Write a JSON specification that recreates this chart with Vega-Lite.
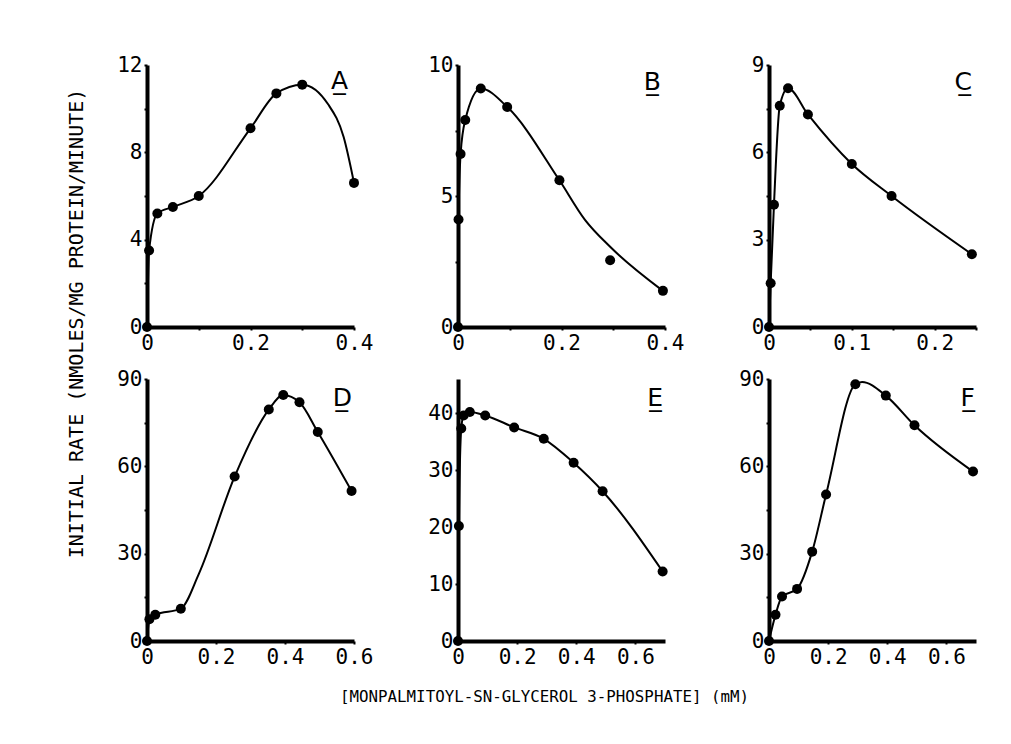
{
  "$schema": "https://vega.github.io/schema/vega-lite/v6.json",
  "padding": {"left": 65, "top": 54, "right": 0, "bottom": 0},
  "background": "white",
  "config": {
    "view": {"stroke": null},
    "axis": {
      "grid": false,
      "domainColor": "black",
      "domainWidth": 4,
      "tickColor": "black",
      "tickWidth": 2,
      "tickSize": 3,
      "labelColor": "black",
      "labelFont": "DejaVu Sans Mono",
      "labelFontSize": 21,
      "labelPadding": 2,
      "labelFlush": false,
      "labelOverlap": false,
      "titleColor": "black"
    }
  },
  "datasets": {
    "pts": [
      {"panel": "A", "x": 0, "y": 0}, {"panel": "A", "x": 0.004, "y": 3.5}, {"panel": "A", "x": 0.02, "y": 5.2}, {"panel": "A", "x": 0.05, "y": 5.5}, {"panel": "A", "x": 0.1, "y": 6.0}, {"panel": "A", "x": 0.2, "y": 9.1}, {"panel": "A", "x": 0.25, "y": 10.7}, {"panel": "A", "x": 0.3, "y": 11.1}, {"panel": "A", "x": 0.4, "y": 6.6},
      {"panel": "B", "x": 0, "y": 0}, {"panel": "B", "x": 0.001, "y": 4.1}, {"panel": "B", "x": 0.005, "y": 6.6}, {"panel": "B", "x": 0.014, "y": 7.9}, {"panel": "B", "x": 0.044, "y": 9.1}, {"panel": "B", "x": 0.095, "y": 8.4}, {"panel": "B", "x": 0.196, "y": 5.6}, {"panel": "B", "x": 0.294, "y": 2.55}, {"panel": "B", "x": 0.396, "y": 1.38},
      {"panel": "C", "x": 0, "y": 0}, {"panel": "C", "x": 0.002, "y": 1.5}, {"panel": "C", "x": 0.006, "y": 4.2}, {"panel": "C", "x": 0.013, "y": 7.6}, {"panel": "C", "x": 0.023, "y": 8.2}, {"panel": "C", "x": 0.047, "y": 7.3}, {"panel": "C", "x": 0.1, "y": 5.6}, {"panel": "C", "x": 0.148, "y": 4.5}, {"panel": "C", "x": 0.245, "y": 2.5},
      {"panel": "D", "x": 0, "y": 0}, {"panel": "D", "x": 0.007, "y": 7.5}, {"panel": "D", "x": 0.024, "y": 9.0}, {"panel": "D", "x": 0.098, "y": 11.1}, {"panel": "D", "x": 0.254, "y": 56.5}, {"panel": "D", "x": 0.353, "y": 79.5}, {"panel": "D", "x": 0.395, "y": 84.5}, {"panel": "D", "x": 0.442, "y": 82}, {"panel": "D", "x": 0.495, "y": 71.8}, {"panel": "D", "x": 0.593, "y": 51.5},
      {"panel": "E", "x": 0, "y": 0}, {"panel": "E", "x": 0.003, "y": 20.2}, {"panel": "E", "x": 0.011, "y": 37.3}, {"panel": "E", "x": 0.019, "y": 39.6}, {"panel": "E", "x": 0.04, "y": 40.2}, {"panel": "E", "x": 0.092, "y": 39.6}, {"panel": "E", "x": 0.19, "y": 37.5}, {"panel": "E", "x": 0.29, "y": 35.5}, {"panel": "E", "x": 0.391, "y": 31.3}, {"panel": "E", "x": 0.489, "y": 26.3}, {"panel": "E", "x": 0.692, "y": 12.2},
      {"panel": "F", "x": 0, "y": 0}, {"panel": "F", "x": 0.022, "y": 9.0}, {"panel": "F", "x": 0.044, "y": 15.3}, {"panel": "F", "x": 0.095, "y": 17.9}, {"panel": "F", "x": 0.146, "y": 30.7}, {"panel": "F", "x": 0.193, "y": 50.3}, {"panel": "F", "x": 0.292, "y": 88.2}, {"panel": "F", "x": 0.395, "y": 84.3}, {"panel": "F", "x": 0.492, "y": 74.1}, {"panel": "F", "x": 0.69, "y": 58.2}
    ],
    "curve": [
      {"panel": "A", "x": 0, "y": 0}, {"panel": "A", "x": 0.004, "y": 3.5}, {"panel": "A", "x": 0.02, "y": 5.2}, {"panel": "A", "x": 0.05, "y": 5.5}, {"panel": "A", "x": 0.1, "y": 6.0}, {"panel": "A", "x": 0.2, "y": 9.1}, {"panel": "A", "x": 0.25, "y": 10.7}, {"panel": "A", "x": 0.3, "y": 11.1}, {"panel": "A", "x": 0.35, "y": 10.2}, {"panel": "A", "x": 0.38, "y": 8.7}, {"panel": "A", "x": 0.4, "y": 6.6},
      {"panel": "B", "x": 0, "y": 0}, {"panel": "B", "x": 0.001, "y": 4.1}, {"panel": "B", "x": 0.005, "y": 6.6}, {"panel": "B", "x": 0.014, "y": 7.9}, {"panel": "B", "x": 0.044, "y": 9.1}, {"panel": "B", "x": 0.095, "y": 8.4}, {"panel": "B", "x": 0.196, "y": 5.6}, {"panel": "B", "x": 0.245, "y": 4.1}, {"panel": "B", "x": 0.294, "y": 3.06}, {"panel": "B", "x": 0.396, "y": 1.38},
      {"panel": "C", "x": 0, "y": 0}, {"panel": "C", "x": 0.002, "y": 1.5}, {"panel": "C", "x": 0.006, "y": 4.2}, {"panel": "C", "x": 0.013, "y": 7.6}, {"panel": "C", "x": 0.023, "y": 8.2}, {"panel": "C", "x": 0.047, "y": 7.3}, {"panel": "C", "x": 0.1, "y": 5.6}, {"panel": "C", "x": 0.148, "y": 4.5}, {"panel": "C", "x": 0.245, "y": 2.5},
      {"panel": "D", "x": 0, "y": 0}, {"panel": "D", "x": 0.007, "y": 7.5}, {"panel": "D", "x": 0.024, "y": 9.0}, {"panel": "D", "x": 0.098, "y": 11.1}, {"panel": "D", "x": 0.15, "y": 23}, {"panel": "D", "x": 0.254, "y": 56.5}, {"panel": "D", "x": 0.353, "y": 79.5}, {"panel": "D", "x": 0.395, "y": 84.5}, {"panel": "D", "x": 0.442, "y": 82}, {"panel": "D", "x": 0.495, "y": 71.8}, {"panel": "D", "x": 0.593, "y": 51.5},
      {"panel": "E", "x": 0, "y": 0}, {"panel": "E", "x": 0.003, "y": 20.2}, {"panel": "E", "x": 0.011, "y": 37.3}, {"panel": "E", "x": 0.019, "y": 39.6}, {"panel": "E", "x": 0.04, "y": 40.2}, {"panel": "E", "x": 0.092, "y": 39.6}, {"panel": "E", "x": 0.19, "y": 37.5}, {"panel": "E", "x": 0.29, "y": 35.5}, {"panel": "E", "x": 0.391, "y": 31.3}, {"panel": "E", "x": 0.489, "y": 26.3}, {"panel": "E", "x": 0.692, "y": 12.2},
      {"panel": "F", "x": 0, "y": 0}, {"panel": "F", "x": 0.022, "y": 9.0}, {"panel": "F", "x": 0.044, "y": 15.3}, {"panel": "F", "x": 0.095, "y": 17.9}, {"panel": "F", "x": 0.146, "y": 30.7}, {"panel": "F", "x": 0.193, "y": 50.3}, {"panel": "F", "x": 0.292, "y": 88.2}, {"panel": "F", "x": 0.315, "y": 89.0}, {"panel": "F", "x": 0.395, "y": 84.3}, {"panel": "F", "x": 0.492, "y": 74.1}, {"panel": "F", "x": 0.69, "y": 58.2}
    ],
    "letters": [
      {"panel": "A", "letter": "A\u0332"}, {"panel": "B", "letter": "B\u0332"}, {"panel": "C", "letter": "C\u0332"},
      {"panel": "D", "letter": "D\u0332"}, {"panel": "E", "letter": "E\u0332"}, {"panel": "F", "letter": "F\u0332"}
    ]
  },
  "columns": 3,
  "spacing": {"row": 52, "column": 104},
  "bounds": "flush",
  "concat": [
    {
      "width": 207, "height": 262,
      "layer": [
        {"data": {"name": "curve"}, "transform": [{"filter": "datum.panel === 'A'"}], "mark": {"type": "line", "interpolate": "monotone", "color": "black", "strokeWidth": 2},
         "encoding": {
           "x": {"field": "x", "type": "quantitative", "scale": {"domain": [0, 0.4], "nice": false}, "axis": {"title": null, "values": [0, 0.1, 0.2, 0.3, 0.4], "format": ".1~f", "labelExpr": "indexof(['0','0.2','0.4'], datum.label) >= 0 ? datum.label : ''"}},
           "y": {"field": "y", "type": "quantitative", "scale": {"domain": [0, 12], "nice": false}, "axis": {"title": "INITIAL RATE  (NMOLES/MG PROTEIN/MINUTE)", "titleFont": "DejaVu Sans Mono", "titleFontSize": 20, "titleFontWeight": "normal", "titleAngle": 270, "titleX": -71, "titleY": 258, "titleAlign": "center", "titleBaseline": "middle", "values": [0, 2, 4, 6, 8, 10, 12], "labelExpr": "datum.value % 4 == 0 ? datum.label : ''"}}
         }},
        {"data": {"name": "pts"}, "transform": [{"filter": "datum.panel === 'A'"}], "mark": {"type": "circle", "color": "black", "opacity": 1, "size": 100},
         "encoding": {"x": {"field": "x", "type": "quantitative"}, "y": {"field": "y", "type": "quantitative"}}},
        {"data": {"name": "letters"}, "transform": [{"filter": "datum.panel === 'A'"}], "mark": {"type": "text", "align": "right", "baseline": "top", "dx": -6, "dy": 4, "fontSize": 25, "font": "DejaVu Sans", "color": "black"},
         "encoding": {"x": {"datum": 0.4}, "y": {"datum": 12}, "text": {"field": "letter"}}}
      ]
    },
    {
      "width": 207, "height": 262,
      "layer": [
        {"data": {"name": "curve"}, "transform": [{"filter": "datum.panel === 'B'"}], "mark": {"type": "line", "interpolate": "monotone", "color": "black", "strokeWidth": 2},
         "encoding": {
           "x": {"field": "x", "type": "quantitative", "scale": {"domain": [0, 0.4], "nice": false}, "axis": {"title": null, "values": [0, 0.1, 0.2, 0.3, 0.4], "format": ".1~f", "labelExpr": "indexof(['0','0.2','0.4'], datum.label) >= 0 ? datum.label : ''"}},
           "y": {"field": "y", "type": "quantitative", "scale": {"domain": [0, 10], "nice": false}, "axis": {"title": null, "values": [0, 2.5, 5, 7.5, 10], "labelExpr": "datum.value % 5 == 0 ? datum.label : ''"}}
         }},
        {"data": {"name": "pts"}, "transform": [{"filter": "datum.panel === 'B'"}], "mark": {"type": "circle", "color": "black", "opacity": 1, "size": 100},
         "encoding": {"x": {"field": "x", "type": "quantitative"}, "y": {"field": "y", "type": "quantitative"}}},
        {"data": {"name": "letters"}, "transform": [{"filter": "datum.panel === 'B'"}], "mark": {"type": "text", "align": "right", "baseline": "top", "dx": -4, "dy": 5, "fontSize": 25, "font": "DejaVu Sans", "color": "black"},
         "encoding": {"x": {"datum": 0.4}, "y": {"datum": 10}, "text": {"field": "letter"}}}
      ]
    },
    {
      "width": 207, "height": 262,
      "layer": [
        {"data": {"name": "curve"}, "transform": [{"filter": "datum.panel === 'C'"}], "mark": {"type": "line", "interpolate": "monotone", "color": "black", "strokeWidth": 2},
         "encoding": {
           "x": {"field": "x", "type": "quantitative", "scale": {"domain": [0, 0.25], "nice": false}, "axis": {"title": null, "values": [0, 0.05, 0.1, 0.15, 0.2, 0.25], "format": ".2~f", "labelExpr": "indexof(['0','0.1','0.2'], datum.label) >= 0 ? datum.label : ''"}},
           "y": {"field": "y", "type": "quantitative", "scale": {"domain": [0, 9], "nice": false}, "axis": {"title": null, "values": [0, 1.5, 3, 4.5, 6, 7.5, 9], "labelExpr": "datum.value % 3 == 0 ? datum.label : ''"}}
         }},
        {"data": {"name": "pts"}, "transform": [{"filter": "datum.panel === 'C'"}], "mark": {"type": "circle", "color": "black", "opacity": 1, "size": 100},
         "encoding": {"x": {"field": "x", "type": "quantitative"}, "y": {"field": "y", "type": "quantitative"}}},
        {"data": {"name": "letters"}, "transform": [{"filter": "datum.panel === 'C'"}], "mark": {"type": "text", "align": "right", "baseline": "top", "dx": -4, "dy": 5, "fontSize": 25, "font": "DejaVu Sans", "color": "black"},
         "encoding": {"x": {"datum": 0.25}, "y": {"datum": 9}, "text": {"field": "letter"}}}
      ]
    },
    {
      "width": 207, "height": 262,
      "layer": [
        {"data": {"name": "curve"}, "transform": [{"filter": "datum.panel === 'D'"}], "mark": {"type": "line", "interpolate": "monotone", "color": "black", "strokeWidth": 2},
         "encoding": {
           "x": {"field": "x", "type": "quantitative", "scale": {"domain": [0, 0.6], "nice": false}, "axis": {"title": null, "values": [0, 0.2, 0.4, 0.6], "format": ".1~f"}},
           "y": {"field": "y", "type": "quantitative", "scale": {"domain": [0, 90], "nice": false}, "axis": {"title": null, "values": [0, 15, 30, 45, 60, 75, 90], "labelExpr": "datum.value % 30 == 0 ? datum.label : ''"}}
         }},
        {"data": {"name": "pts"}, "transform": [{"filter": "datum.panel === 'D'"}], "mark": {"type": "circle", "color": "black", "opacity": 1, "size": 100},
         "encoding": {"x": {"field": "x", "type": "quantitative"}, "y": {"field": "y", "type": "quantitative"}}},
        {"data": {"name": "letters"}, "transform": [{"filter": "datum.panel === 'D'"}], "mark": {"type": "text", "align": "right", "baseline": "top", "dx": -2, "dy": 7, "fontSize": 25, "font": "DejaVu Sans", "color": "black"},
         "encoding": {"x": {"datum": 0.6}, "y": {"datum": 90}, "text": {"field": "letter"}}}
      ]
    },
    {
      "width": 207, "height": 262,
      "layer": [
        {"data": {"name": "curve"}, "transform": [{"filter": "datum.panel === 'E'"}], "mark": {"type": "line", "interpolate": "monotone", "color": "black", "strokeWidth": 2},
         "encoding": {
           "x": {"field": "x", "type": "quantitative", "scale": {"domain": [0, 0.7], "nice": false}, "axis": {"title": "[MONPALMITOYL-SN-GLYCEROL 3-PHOSPHATE]  (mM)", "titleFont": "DejaVu Sans Mono", "titleFontSize": 15.8, "titleFontWeight": "normal", "titleX": 86, "titleY": 55, "titleAlign": "center", "titleBaseline": "middle", "values": [0, 0.1, 0.2, 0.3, 0.4, 0.5, 0.6, 0.7], "format": ".1~f", "labelExpr": "indexof(['0','0.2','0.4','0.6'], datum.label) >= 0 ? datum.label : ''"}},
           "y": {"field": "y", "type": "quantitative", "scale": {"domain": [0, 46], "nice": false}, "axis": {"title": null, "values": [0, 5, 10, 15, 20, 25, 30, 35, 40], "labelExpr": "datum.value % 10 == 0 ? datum.label : ''"}}
         }},
        {"data": {"name": "pts"}, "transform": [{"filter": "datum.panel === 'E'"}], "mark": {"type": "circle", "color": "black", "opacity": 1, "size": 100},
         "encoding": {"x": {"field": "x", "type": "quantitative"}, "y": {"field": "y", "type": "quantitative"}}},
        {"data": {"name": "letters"}, "transform": [{"filter": "datum.panel === 'E'"}], "mark": {"type": "text", "align": "right", "baseline": "top", "dx": -2, "dy": 7, "fontSize": 25, "font": "DejaVu Sans", "color": "black"},
         "encoding": {"x": {"datum": 0.7}, "y": {"datum": 46}, "text": {"field": "letter"}}}
      ]
    },
    {
      "width": 207, "height": 262,
      "layer": [
        {"data": {"name": "curve"}, "transform": [{"filter": "datum.panel === 'F'"}], "mark": {"type": "line", "interpolate": "monotone", "color": "black", "strokeWidth": 2},
         "encoding": {
           "x": {"field": "x", "type": "quantitative", "scale": {"domain": [0, 0.7], "nice": false}, "axis": {"title": null, "values": [0, 0.1, 0.2, 0.3, 0.4, 0.5, 0.6, 0.7], "format": ".1~f", "labelExpr": "indexof(['0','0.2','0.4','0.6'], datum.label) >= 0 ? datum.label : ''"}},
           "y": {"field": "y", "type": "quantitative", "scale": {"domain": [0, 90], "nice": false}, "axis": {"title": null, "values": [0, 15, 30, 45, 60, 75, 90], "labelExpr": "datum.value % 30 == 0 ? datum.label : ''"}}
         }},
        {"data": {"name": "pts"}, "transform": [{"filter": "datum.panel === 'F'"}], "mark": {"type": "circle", "color": "black", "opacity": 1, "size": 100},
         "encoding": {"x": {"field": "x", "type": "quantitative"}, "y": {"field": "y", "type": "quantitative"}}},
        {"data": {"name": "letters"}, "transform": [{"filter": "datum.panel === 'F'"}], "mark": {"type": "text", "align": "right", "baseline": "top", "dx": -1, "dy": 7, "fontSize": 25, "font": "DejaVu Sans", "color": "black"},
         "encoding": {"x": {"datum": 0.7}, "y": {"datum": 90}, "text": {"field": "letter"}}}
      ]
    }
  ]
}
